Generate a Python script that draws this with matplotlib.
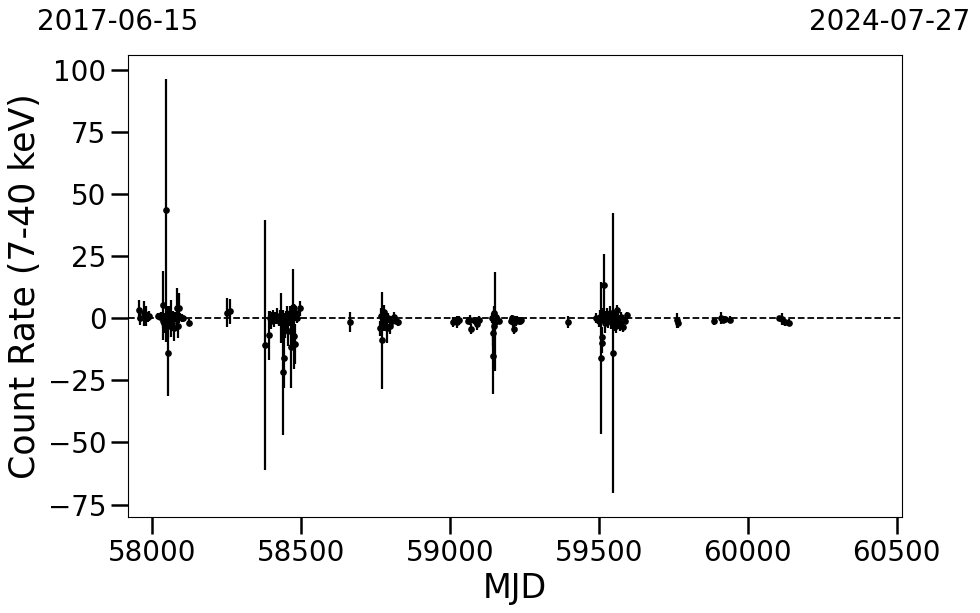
import numpy as np
import matplotlib
matplotlib.use("Agg")
import matplotlib.pyplot as plt

# ----------------------------------------------------------
# data (MJD, rate, 1-sigma error)
# ----------------------------------------------------------
mjd = [
    57956, 57960, 57973, 57978, 57985, 57990,
    58020, 58025, 58030, 58035, 58037, 58040, 58042, 58047, 58050, 58052,
    58054, 58057, 58060, 58064, 58067, 58070, 58074, 58078, 58084, 58088,
    58091, 58095, 58100, 58105, 58124,
    58252, 58262,
    58380, 58392, 58395, 58400, 58405, 58410, 58415, 58420, 58425, 58430,
    58433, 58437, 58440, 58442, 58445, 58448, 58452, 58456, 58460, 58463,
    58467, 58470, 58474, 58477, 58479, 58482, 58485, 58497,
    58663,
    58766, 58770, 58773, 58776, 58779, 58783, 58788, 58793, 58799, 58805,
    58813, 58820, 58826,
    59011, 59017, 59024, 59030, 59060, 59068, 59072, 59085, 59092, 59097,
    59140, 59143, 59145, 59147, 59149, 59152, 59155, 59159, 59165,
    59205, 59209, 59213, 59216, 59222, 59226, 59232, 59236, 59240,
    59397,
    59491, 59496, 59502, 59505, 59507, 59510, 59511, 59514, 59518, 59521,
    59524, 59527, 59530, 59534, 59538, 59542, 59545, 59548, 59551, 59554,
    59557, 59561, 59565, 59570, 59575, 59582, 59587, 59594,
    59763, 59766, 59888, 59910, 59918, 59925, 59941,
    60105, 60115, 60126, 60140,
]
rate = [
    3.2, 0.2, 2.0, 1.0, 0.5, 0.8,
    1.0, 0.5, 1.2, -1.0, 5.2, -2.0, 0.3, 43.5, 1.0, -3.0,
    -14.1, 2.0, 0.0, 0.0, -2.0, 1.0, -4.0, 0.5, 4.0, -3.0,
    4.0, 0.5, 0.2, 0.0, -1.7,
    2.3, 2.8,
    -10.8, -6.9, 0.0, -1.0, 0.5, -0.5, 0.0, 1.0, -1.0, 0.5,
    0.0, -2.0, -21.8, -16.0, -3.0, -1.0, 1.0, -5.0, 0.0, 2.0,
    -11.7, 1.0, 4.4, -7.3, -10.5, 2.0, 0.0, 4.0,
    -1.6,
    -4.0, 1.0, -8.9, -2.0, 2.4, -1.0, -4.0, 0.0, -3.2, -1.0,
    0.4, -1.0, -1.6,
    -1.6, -1.0, -1.6, -0.5, -1.0, -0.8, -4.4, -1.0, -2.4, -0.5,
    0.0, -15.3, -6.0, -3.0, 2.0, -1.3, 0.5, -0.5, -1.0,
    -1.0, 0.0, -1.5, -4.4, -1.0, -0.5, -1.0, -1.0, -0.5,
    -1.6,
    0.0, -0.5, -1.0, 0.5, -16.1, -10.0, -7.7, 1.0, 13.3, -2.0,
    0.0, 1.0, -1.0, 0.5, 2.0, -1.5, 0.0, -14.0, -2.0, 1.0,
    -3.0, 3.2, 0.0, -2.0, 0.5, -3.6, -1.0, 1.2,
    -0.8, -2.0, -1.2, 0.0, -0.5, -0.4, -0.5,
    0.0, -0.3, -1.6, -1.8,
]
err = [
    4.0, 3.0, 5.0, 4.0, 2.0, 2.0,
    1.0, 1.0, 1.5, 3.0, 14.0, 4.0, 2.0, 53.0, 4.0, 5.0,
    17.0, 3.0, 4.0, 7.5, 3.0, 2.0, 5.0, 2.0, 8.0, 5.0,
    6.0, 1.5, 1.5, 1.0, 1.5,
    5.7, 5.0,
    50.3, 10.0, 3.0, 3.5, 3.0, 3.0, 2.5, 3.0, 2.0, 3.0,
    10.0, 4.0, 25.0, 12.0, 5.0, 4.0, 4.0, 6.0, 3.0, 3.0,
    16.3, 3.0, 15.4, 13.0, 8.0, 3.0, 2.0, 3.0,
    4.0,
    3.0, 3.0, 19.4, 3.0, 3.0, 4.0, 6.0, 2.0, 3.0, 2.0,
    2.0, 1.5, 1.5,
    2.0, 1.5, 2.5, 1.5, 1.5, 2.0, 2.0, 1.5, 2.5, 1.5,
    2.0, 15.3, 5.0, 4.0, 3.0, 19.8, 2.0, 2.0, 1.5,
    1.5, 1.5, 2.0, 2.0, 2.0, 1.5, 1.5, 1.5, 1.0,
    2.5,
    2.0, 1.5, 2.5, 3.0, 30.6, 4.0, 4.0, 3.0, 12.5, 4.0,
    3.0, 3.0, 3.0, 2.5, 3.0, 3.0, 2.0, 56.3, 3.0, 2.5,
    3.0, 2.0, 2.0, 3.0, 2.0, 2.0, 1.5, 1.5,
    3.0, 2.0, 1.5, 2.5, 1.5, 1.5, 1.5,
    1.0, 2.5, 1.5, 1.5,
]

start_label = "2017-06-15"
end_label = "2024-07-27"
mjd_start, mjd_end = 57919, 60518

# ----------------------------------------------------------
# plot
# ----------------------------------------------------------
fig = plt.figure(figsize=(9.8, 6.13), dpi=100)
ax = fig.add_axes([0.1306, 0.1566, 0.7898, 0.7537])

ax.errorbar(mjd, rate, yerr=err, fmt='o', color='black', ms=3.8,
            elinewidth=1.6, capsize=0, zorder=3)
ax.axhline(0, color='black', linestyle='--', linewidth=1.3, zorder=2)

ax.set_xlim(mjd_start, mjd_end)
ax.set_ylim(-80, 106)
ax.set_xticks([58000, 58500, 59000, 59500, 60000, 60500])
ax.set_yticks([-75, -50, -25, 0, 25, 50, 75, 100])

ax.set_xlabel("MJD", fontsize=24)
ax.set_ylabel("Count Rate (7-40 keV)", fontsize=25)
ax.tick_params(axis='both', labelsize=20, length=12, width=1.8)

fig.text(118 / 980, 1 - 22 / 613, start_label, fontsize=20,
         ha='center', va='center')
fig.text(890 / 980, 1 - 22 / 613, end_label, fontsize=20,
         ha='center', va='center')

fig.savefig("out.png", dpi=100)
